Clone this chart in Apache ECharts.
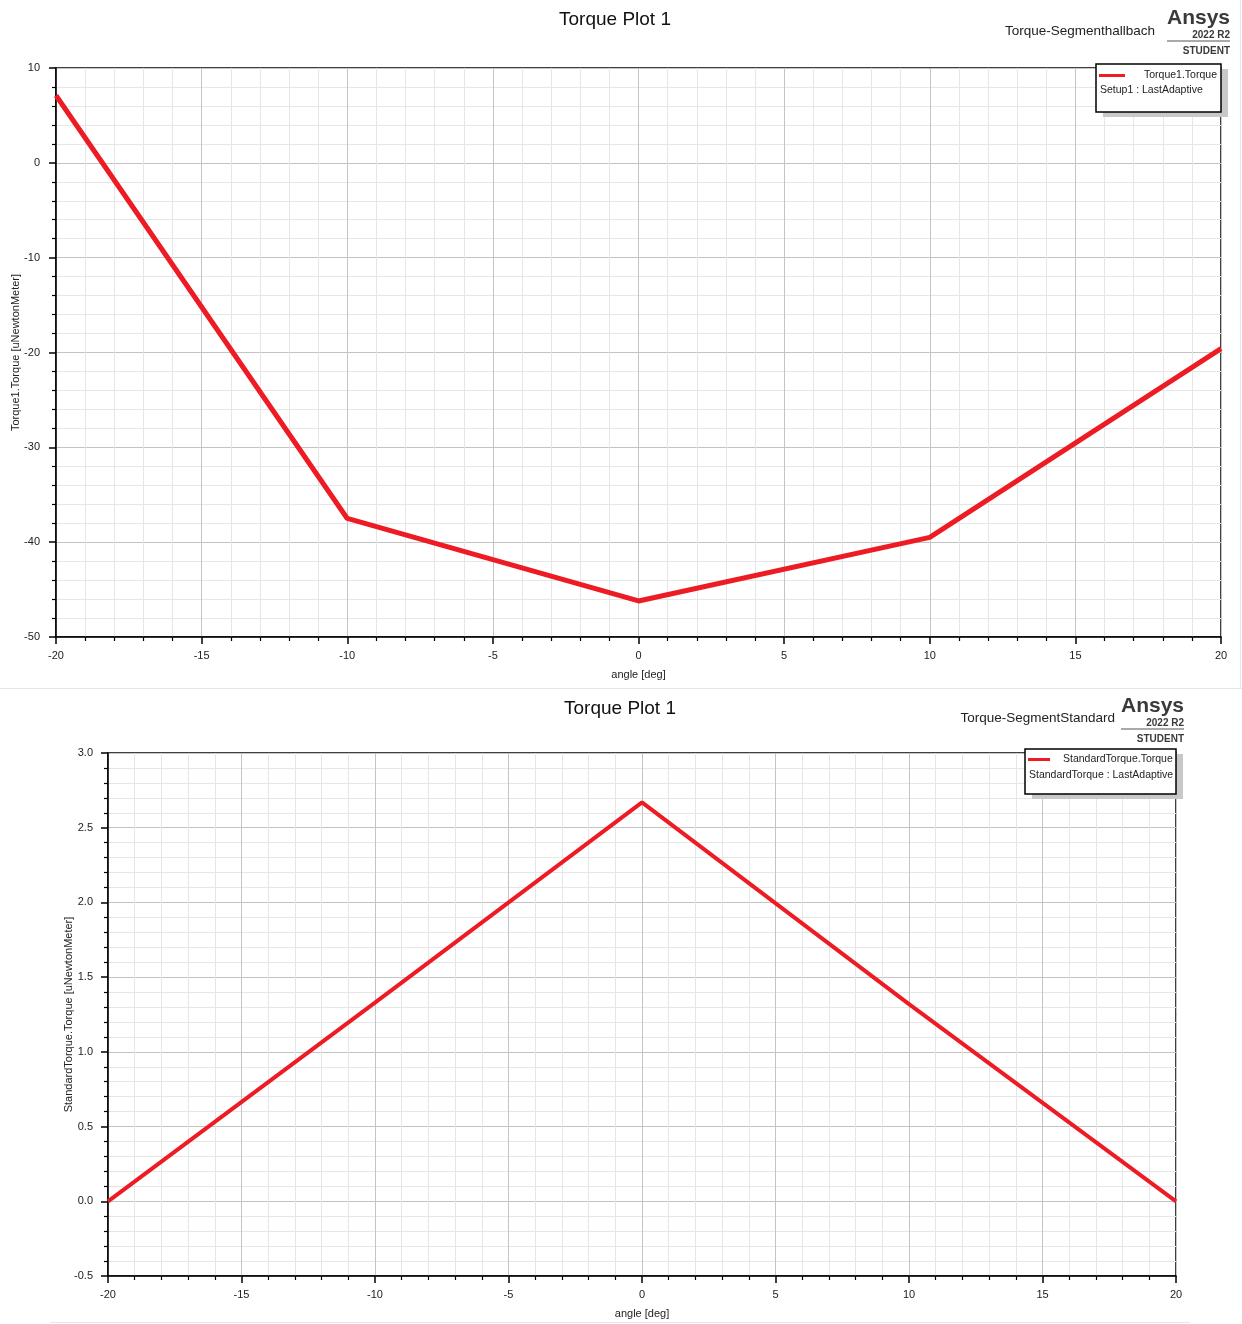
<!DOCTYPE html>
<html>
<head>
<meta charset="utf-8">
<script src="https://cdn.jsdelivr.net/npm/echarts@6/dist/echarts.min.js"></script>
<style>
  html, body { margin: 0; padding: 0; background: #fff; }
  #chart { width: 1242px; height: 1324px; }
</style>
</head>
<body>
<div id="chart"></div>
<script>
// angle values (deg)
var anglesTop = [-20, -10, 0, 10, 20];
var torqueHallbach = [7.1, -37.5, -46.2, -39.5, -19.6];
var anglesBottom = [-20, -10, 0, 10, 20];
var torqueStandard = [0.0, 1.33, 2.67, 1.32, 0.0];

var RED = '#ed1c24';
var FONT = 'Liberation Sans, Arial, sans-serif';

function pairs(xs, ys) {
  return xs.map(function (x, i) { return [x, ys[i]]; });
}

var chart = echarts.init(document.getElementById('chart'));

// shared axis look
function xAxisCfg(gridIndex) {
  return {
    type: 'value', gridIndex: gridIndex,
    min: -20, max: 20, interval: 5,
    name: 'angle [deg]', nameLocation: 'middle', nameGap: 32, nameMoveOverlap: false,
    nameTextStyle: { color: '#222', fontSize: 11, fontFamily: FONT },
    axisLine: { onZero: false, lineStyle: { color: '#000', width: 1.5 } },
    axisTick: { length: 7, lineStyle: { color: '#000', width: 1.5 } },
    minorTick: { show: true, splitNumber: 5, length: 4, lineStyle: { color: '#000', width: 1.2 } },
    axisLabel: { color: '#222', fontSize: 11, fontFamily: FONT, margin: 13 },
    splitLine: { show: true, lineStyle: { color: '#c4c4c4', width: 1 } },
    minorSplitLine: { show: true, lineStyle: { color: '#e6e6e6', width: 1 } }
  };
}

function yAxisCfg(gridIndex, min, max, interval, name, fmt, gap, margin) {
  return {
    type: 'value', gridIndex: gridIndex,
    min: min, max: max, interval: interval,
    name: name, nameLocation: 'middle', nameGap: gap, nameRotate: 90, nameMoveOverlap: false,
    nameTextStyle: { color: '#222', fontSize: 11, fontFamily: FONT },
    axisLine: { show: true, onZero: false, lineStyle: { color: '#000', width: 1.5 } },
    axisTick: { show: true, length: 7, lineStyle: { color: '#000', width: 1.5 } },
    minorTick: { show: true, splitNumber: 5, length: 4, lineStyle: { color: '#000', width: 1.2 } },
    axisLabel: { color: '#222', fontSize: 11, fontFamily: FONT, margin: margin, formatter: fmt },
    splitLine: { show: true, lineStyle: { color: '#c4c4c4', width: 1 } },
    minorSplitLine: { show: true, lineStyle: { color: '#e6e6e6', width: 1 } }
  };
}

// logo block: Ansys / 2022 R2 / STUDENT
function logo(right, top) {
  return [
    { type: 'text', right: 1242 - right, top: top, z: 10,
      style: { text: 'Ansys', font: 'bold 21px ' + FONT, fill: '#3a3a3a' } },
    { type: 'text', right: 1242 - right, top: top + 22, z: 10,
      style: { text: '2022 R2', font: 'bold 10px ' + FONT, fill: '#3a3a3a' } },
    { type: 'line', z: 10, shape: { x1: right - 63, y1: top + 33, x2: right, y2: top + 33 },
      style: { stroke: '#555', lineWidth: 1 } },
    { type: 'text', right: 1242 - right, top: top + 38, z: 10,
      style: { text: 'STUDENT', font: 'bold 10px ' + FONT, fill: '#3a3a3a' } }
  ];
}

// legend frame with drop shadow + the second text row
function legendBox(x, y, w, h, row2) {
  return [
    { type: 'rect', z: 1, shape: { x: x + 7, y: y + 5, width: w, height: h },
      style: { fill: '#c8c8c8' } },
    { type: 'rect', z: 2, shape: { x: x, y: y, width: w, height: h },
      style: { fill: '#fff', stroke: '#000', lineWidth: 1.5 } },
    { type: 'text', z: 6, left: x + 4, top: y + 21,
      style: { text: row2, font: '10.5px ' + FONT, fill: '#222' } }
  ];
}

var graphics = []
  .concat(logo(1230, 8))
  .concat(logo(1184, 696))
  .concat(legendBox(1096, 64, 125, 48, 'Setup1 : LastAdaptive'))
  .concat(legendBox(1025, 749, 151, 45, 'StandardTorque : LastAdaptive'))
  .concat([
    { type: 'text', right: 1242 - 1155, top: 24, z: 10,
      style: { text: 'Torque-Segmenthallbach', font: '13.5px ' + FONT, fill: '#222' } },
    { type: 'text', right: 1242 - 1115, top: 711, z: 10,
      style: { text: 'Torque-SegmentStandard', font: '13.5px ' + FONT, fill: '#222' } },
    // image borders
    { type: 'line', shape: { x1: 0, y1: 688.5, x2: 1242, y2: 688.5 }, style: { stroke: '#e6e6e6', lineWidth: 1 } },
    { type: 'line', shape: { x1: 1240.5, y1: 0, x2: 1240.5, y2: 688 }, style: { stroke: '#e6e6e6', lineWidth: 1 } },
    { type: 'line', shape: { x1: 50, y1: 1322.5, x2: 1190, y2: 1322.5 }, style: { stroke: '#e6e6e6', lineWidth: 1 } }
  ]);

chart.setOption({
  animation: false,
  backgroundColor: '#fff',
  title: [
    { text: 'Torque Plot 1', left: 610, top: 5, textAlign: 'center',
      textStyle: { fontSize: 19, fontWeight: 'normal', color: '#111', fontFamily: FONT } },
    { text: 'Torque Plot 1', left: 615, top: 694, textAlign: 'center',
      textStyle: { fontSize: 19, fontWeight: 'normal', color: '#111', fontFamily: FONT } }
  ],
  legend: [
    { data: ['Torque1.Torque'], left: 1099, top: 70, z: 8, itemWidth: 26, itemHeight: 3, itemGap: 0,
      icon: 'rect', textStyle: { fontSize: 10.5, color: '#222', fontFamily: FONT, padding: [0, 0, 0, 14] }, padding: 0 },
    { data: ['StandardTorque.Torque'], left: 1028, top: 754, z: 8, itemWidth: 22, itemHeight: 3, itemGap: 0,
      icon: 'rect', textStyle: { fontSize: 10.5, color: '#222', fontFamily: FONT, padding: [0, 0, 0, 8] }, padding: 0 }
  ],
  grid: [
    { left: 56, top: 68, width: 1165, height: 569, show: true, borderColor: '#000', borderWidth: 1.5,
      outerBoundsMode: 'none', containLabel: false },
    { left: 108, top: 753, width: 1068, height: 523, show: true, borderColor: '#000', borderWidth: 1.5,
      outerBoundsMode: 'none', containLabel: false }
  ],
  xAxis: [xAxisCfg(0), xAxisCfg(1)],
  yAxis: [
    yAxisCfg(0, -50, 10, 10, 'Torque1.Torque [uNewtonMeter]', function (v) { return String(v); }, 35, 16),
    yAxisCfg(1, -0.5, 3.0, 0.5, 'StandardTorque.Torque [uNewtonMeter]', function (v) { return v.toFixed(1); }, 34, 15)
  ],
  series: [
    { name: 'Torque1.Torque', type: 'line', xAxisIndex: 0, yAxisIndex: 0,
      data: pairs(anglesTop, torqueHallbach), symbol: 'none', z: 5,
      lineStyle: { color: RED, width: 5 }, itemStyle: { color: RED } },
    { name: 'StandardTorque.Torque', type: 'line', xAxisIndex: 1, yAxisIndex: 1,
      data: pairs(anglesBottom, torqueStandard), symbol: 'none', z: 5,
      lineStyle: { color: RED, width: 4 }, itemStyle: { color: RED } }
  ],
  graphic: graphics
});
</script>
</body>
</html>
